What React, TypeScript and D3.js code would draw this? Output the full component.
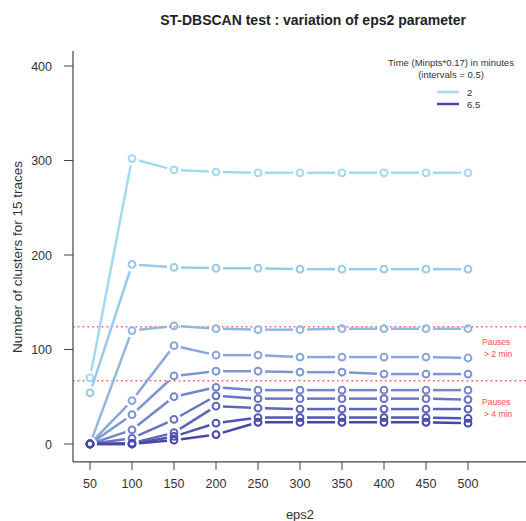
import React from "react";
import * as d3 from "d3";

const eps2 = [50, 100, 150, 200, 250, 300, 350, 400, 450, 500];
const timeLabels = ["2", "2.5", "3", "3.5", "4", "4.5", "5", "5.5", "6", "6.5"];

const t20 = [70, 302, 290, 288, 287, 287, 287, 287, 287, 287];
const t25 = [54, 190, 187, 186, 186, 185, 185, 185, 185, 185];
const t30 = [0, 120, 125, 122, 121, 121, 122, 122, 122, 122];
const t35 = [0, 46, 104, 94, 94, 92, 92, 92, 92, 91];
const t40 = [0, 31, 72, 77, 77, 76, 76, 74, 74, 74];
const t45 = [0, 15, 50, 60, 57, 57, 57, 57, 57, 57];
const t50 = [0, 6, 26, 51, 48, 48, 48, 48, 48, 47];
const t55 = [0, 1, 12, 40, 38, 37, 37, 37, 37, 37];
const t60 = [0, 0, 8, 22, 28, 28, 28, 28, 28, 27];
const t65 = [0, 0, 4, 10, 23, 23, 23, 23, 23, 22];
const seriesValues = [t20, t25, t30, t35, t40, t45, t50, t55, t60, t65];

const yTicks = [0, 100, 200, 300, 400];
const pauseLines = [124, 67];
const pauseLabels = [["Pauses", "> 2 min"], ["Pauses", "> 4 min"]];
const legendShown = ["2", "6.5"];

const W = 526;
const H = 521;

export default function App() {
  const x = d3.scaleLinear().domain([50, 500]).range([90, 468]);
  const y = d3.scaleLinear().domain([0, 400]).range([444, 66]);
  const color = (i: number) =>
    d3.interpolateLab("#a4daf0", "#4646ac")(i / (seriesValues.length - 1));

  const plotLeft = 73;
  const plotBottom = y(-19);
  const plotTop = y(416);
  const gap = 7;
  const font = "'Liberation Sans', Arial, Helvetica, sans-serif";

  const segments = (vals: number[]) => {
    const out: { x1: number; y1: number; x2: number; y2: number }[] = [];
    for (let k = 0; k < vals.length - 1; k++) {
      const ax = x(eps2[k]), ay = y(vals[k]);
      const bx = x(eps2[k + 1]), by = y(vals[k + 1]);
      const dx = bx - ax, dy = by - ay;
      const len = Math.hypot(dx, dy);
      if (len <= 2 * gap) continue;
      const ux = dx / len, uy = dy / len;
      out.push({ x1: ax + ux * gap, y1: ay + uy * gap, x2: bx - ux * gap, y2: by - uy * gap });
    }
    return out;
  };

  const pauseOffsets = [18, 24];

  return (
    <svg width={W} height={H} style={{ position: "absolute", left: 0, top: 0, display: "block" }} fontFamily={font}>
      <rect x={0} y={0} width={W} height={H} fill="#ffffff" />
      <text x={313} y={25} textAnchor="middle" fontSize={14} fontWeight="bold" fill="#222">
        ST-DBSCAN test : variation of eps2 parameter
      </text>

      {pauseLines.map((v, i) => (
        <line key={"p" + i} x1={plotLeft} x2={W} y1={y(v)} y2={y(v)} stroke="#ff5a5a" strokeWidth={1.6} strokeDasharray="1.6,3.2" />
      ))}

      {seriesValues.map((vals, i) => (
        <g key={"s" + i} stroke={color(i)} fill="none">
          {segments(vals).map((s, k) => (
            <line key={k} x1={s.x1} y1={s.y1} x2={s.x2} y2={s.y2} strokeWidth={2.5} />
          ))}
          {vals.map((v, k) => (
            <circle key={"c" + k} cx={x(eps2[k])} cy={y(v)} r={3.4} strokeWidth={2} />
          ))}
        </g>
      ))}

      <line x1={plotLeft} x2={plotLeft} y1={plotTop} y2={plotBottom} stroke="#444" strokeWidth={1.2} />
      <line x1={plotLeft} x2={W} y1={plotBottom} y2={plotBottom} stroke="#444" strokeWidth={1.2} />
      {yTicks.map((t) => (
        <g key={"y" + t}>
          <line x1={plotLeft - 9} x2={plotLeft} y1={y(t)} y2={y(t)} stroke="#444" strokeWidth={1} />
          <text x={52} y={y(t) + 4.5} textAnchor="end" fontSize={12.5} fill="#333">{t}</text>
        </g>
      ))}
      {eps2.map((t) => (
        <g key={"x" + t}>
          <line x1={x(t)} x2={x(t)} y1={plotBottom} y2={plotBottom + 8} stroke="#444" strokeWidth={1} />
          <text x={x(t)} y={488} textAnchor="middle" fontSize={12.5} fill="#333">{t}</text>
        </g>
      ))}
      <text x={300} y={519} textAnchor="middle" fontSize={13} fill="#333">eps2</text>
      <text transform={`translate(22,257) rotate(-90)`} textAnchor="middle" fontSize={13.5} fill="#333">
        Number of clusters for 15 traces
      </text>

      {pauseLabels.map((lines, i) => (
        <text key={"pl" + i} x={482} y={y(pauseLines[i]) + pauseOffsets[i]} fontSize={8.5} fill="#ff4d4d">
          <tspan x={482} dy={0}>{lines[0]}</tspan>
          <tspan x={484} dy={12}>{lines[1]}</tspan>
        </text>
      ))}

      <text x={451} y={66} textAnchor="middle" fontSize={9.5} fill="#333">Time (Minpts*0.17) in minutes</text>
      <text x={451} y={78} textAnchor="middle" fontSize={9.5} fill="#333">(intervals = 0.5)</text>
      {legendShown.map((lab, i) => {
        const idx = timeLabels.indexOf(lab);
        const ly = 92 + i * 12;
        return (
          <g key={"lg" + i}>
            <line x1={437} x2={459} y1={ly} y2={ly} stroke={color(idx)} strokeWidth={2.5} />
            <text x={467} y={ly + 3.5} fontSize={9.5} fill="#333">{lab}</text>
          </g>
        );
      })}
    </svg>
  );
}
